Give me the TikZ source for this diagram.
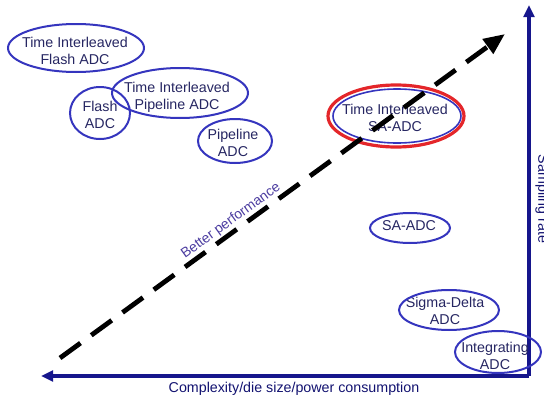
\documentclass[tikz,border=0pt]{standalone}
\usepackage{fontspec}
\setmainfont{Liberation Sans}
\usetikzlibrary{arrows.meta}
\definecolor{adcblue}{HTML}{3535BE}
\definecolor{adctext}{HTML}{262662}
\definecolor{axisnavy}{HTML}{16168C}
\definecolor{perfviolet}{HTML}{4B3CA0}
\definecolor{bestred}{HTML}{E4262A}
\begin{document}
\begin{tikzpicture}[x=0.75pt,y=-0.75pt,
    adc/.style={draw=adcblue,line width=1.5pt},
    adclabel/.style={align=center,inner sep=0pt,text=adctext,font=\fontsize{10.7}{12.8}\selectfont},
    axis/.style={draw=axisnavy,line width=2.3pt,-{Triangle[length=9pt,width=8pt]}}]
    \useasboundingbox (0,0) rectangle (544,400);
    % axes
    \coordinate (corner) at (529,376);
    \coordinate (xend) at (41,376);
    \coordinate (yend) at (529,5);
    \draw [axis] (corner) -- (xend);
    \draw [axis] (corner) -- (yend);
    \node (xlabel) [adclabel,text=axisnavy!80!black] at (294,389) {Complexity/die size/power consumption};
    \node (ylabel) [adclabel,text=axisnavy!80!black,rotate=-90] at (542,199) {Sampling rate};
    % converters
    \node (tiflash) [adclabel] at (75,51) {Time Interleaved\\Flash ADC};
    \draw [adc] (76,48) ellipse (68 and 24);
    \node (flash) [adclabel] at (100,115) {Flash\\ADC};
    \draw [adc] (100,113) ellipse (30 and 26);
    \node (tipipe) [adclabel] at (177,97) {Time Interleaved\\Pipeline ADC};
    \draw [adc] (180,93) ellipse (68 and 25);
    \node (pipe) [adclabel] at (233,143) {Pipeline\\ADC};
    \draw [adc] (235,141) ellipse (37 and 22);
    \node (tisar) [adclabel] at (395,118) {Time Interleaved\\SA-ADC};
    \draw [draw=bestred,line width=2.4pt] (396,116) ellipse (68 and 31);
    \draw [adc,line width=1.2pt] (397,116) ellipse (64 and 27);
    \node (sar) [adclabel] at (409,226) {SA-ADC};
    \draw [adc] (410,228) ellipse (40 and 15);
    \node (sigdel) [adclabel] at (445,311) {Sigma-Delta\\ADC};
    \draw [adc] (449,310) ellipse (50 and 20);
    \node (integ) [adclabel] at (495,356) {Integrating\\ADC};
    \draw [adc] (498,352) ellipse (43 and 21);
    % performance arrow
    \coordinate (perfstart) at (60,358);
    \coordinate (perfend) at (505,34);
    \draw [line width=3.6pt,dash pattern=on 19pt off 10pt,
        -{Triangle[length=16pt,width=13pt]}] (perfstart) -- (perfend);
    \node (perf) [adclabel,text=perfviolet,font=\fontsize{10.4}{12}\selectfont,rotate=36] at (231,221) {Better performance};
\end{tikzpicture}
\end{document}
